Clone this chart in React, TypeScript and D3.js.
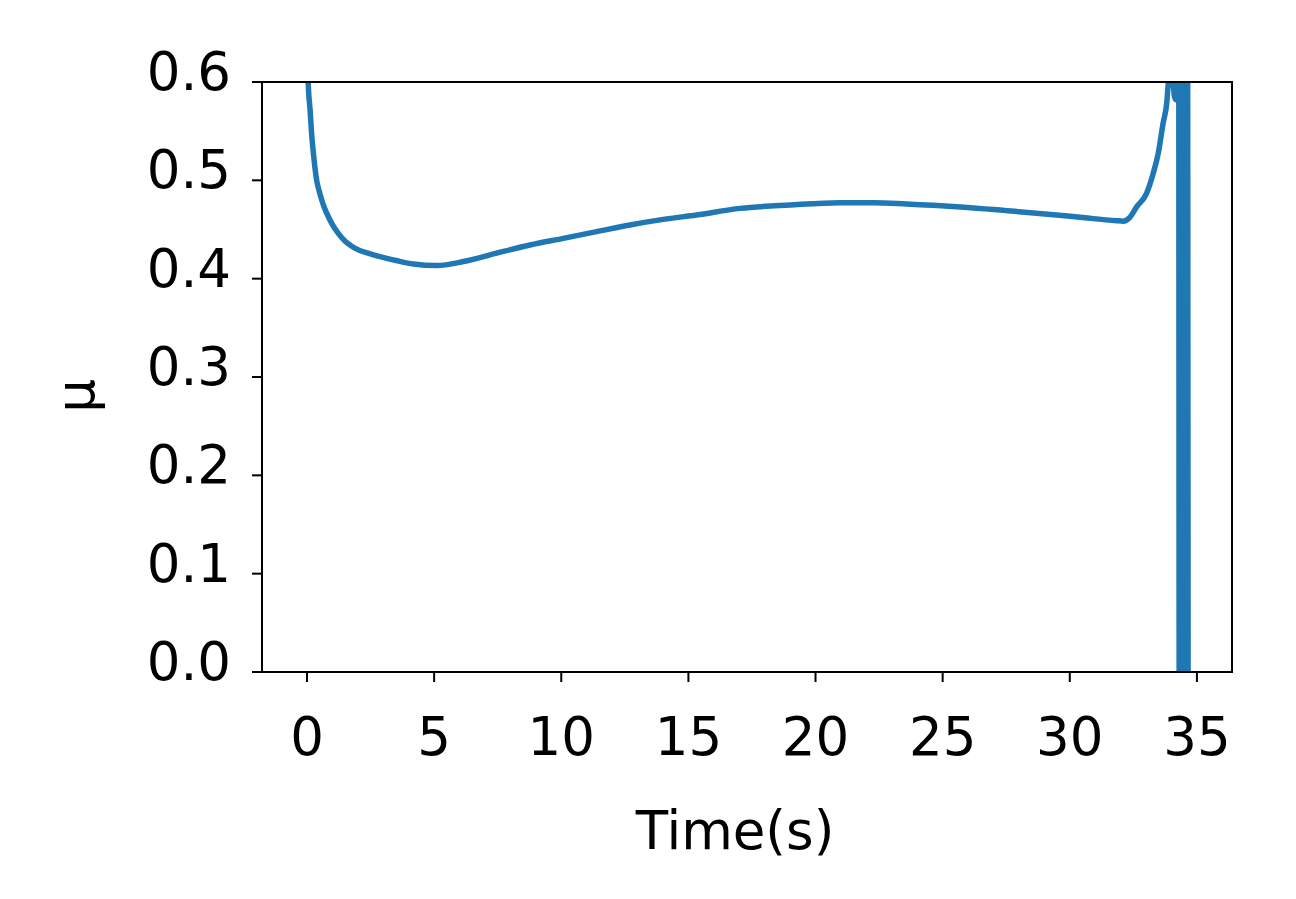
import React, { useEffect, useRef } from "react";
import * as d3 from "d3";

// Friction coefficient vs time
const times: number[] = [
  0, 0.05, 0.12, 0.18, 0.25, 0.38, 0.48, 0.58, 0.7, 0.84, 1.0, 1.23, 1.5, 1.76,
  2.05, 2.4, 2.87, 3.5, 4.18, 5.1, 6.15, 7.46, 8.77, 10.08, 11.39, 12.7, 14.01,
  15.32, 17.03, 19.0, 20.96, 22.27, 23.58, 25.55, 27.51, 29.48, 30.79, 31.84,
  32.1, 32.35, 32.63, 33.02, 33.28, 33.48, 33.67, 33.81, 33.88, 33.95, 34.05,
  34.12, 34.18, 34.24,
  // final unstable segment (oscillating values)
  34.28, 34.305, 34.33, 34.355, 34.38, 34.405, 34.43, 34.455, 34.48, 34.505,
  34.53, 34.555, 34.58, 34.605, 34.63, 34.655,
];
const mu: number[] = [
  0.66, 0.598, 0.572, 0.548, 0.528, 0.5, 0.489, 0.48, 0.471, 0.463, 0.455,
  0.446, 0.438, 0.433, 0.429, 0.426, 0.4224, 0.4185, 0.4149, 0.4133, 0.4174,
  0.426, 0.4342, 0.441, 0.4478, 0.4546, 0.4603, 0.4648, 0.4715, 0.475, 0.4773,
  0.4773, 0.476, 0.4732, 0.4692, 0.4648, 0.4614, 0.459, 0.4585, 0.462, 0.473,
  0.4868, 0.507, 0.5275, 0.558, 0.578, 0.6, 0.615, 0.605, 0.585, 0.582, 0.62,
  0.85, -0.05, 0.85, -0.05, 0.85, -0.05, 0.85, -0.05, 0.85, -0.05, 0.85, -0.05,
  0.85, -0.05, 0.85, -0.05,
];

const xTicks: number[] = [0, 5, 10, 15, 20, 25, 30, 35];
const yTicks: number[] = [0.0, 0.1, 0.2, 0.3, 0.4, 0.5, 0.6];
const xLabel = "Time(s)";
const yLabel = "μ";

const W = 1296;
const H = 899;
const FONT = "'DejaVu Sans', sans-serif";

export default function App() {
  const ref = useRef<SVGSVGElement | null>(null);

  useEffect(() => {
    const svg = d3.select(ref.current);
    svg.selectAll("*").remove();

    const left = 262, right = 1232, top = 82, bottom = 672;
    const x = d3.scaleLinear().domain([-1.77, 36.38]).range([left, right]);
    const y = d3.scaleLinear().domain([0, 0.6]).range([bottom, top]);

    svg.append("rect").attr("width", W).attr("height", H).attr("fill", "#fff");

    svg
      .append("clipPath")
      .attr("id", "plotclip")
      .append("rect")
      .attr("x", left)
      .attr("y", top)
      .attr("width", right - left)
      .attr("height", bottom - top);

    const data = times.map((t, i) => [t, mu[i]] as [number, number]);
    const line = d3
      .line<[number, number]>()
      .x((d) => x(d[0]))
      .y((d) => y(d[1]))
      .curve(d3.curveMonotoneX);

    svg
      .append("path")
      .attr("d", line(data) as string)
      .attr("fill", "none")
      .attr("stroke", "#1f77b4")
      .attr("stroke-width", 5.5)
      .attr("stroke-linejoin", "round")
      .attr("stroke-linecap", "butt")
      .attr("clip-path", "url(#plotclip)");

    // spines
    svg
      .append("rect")
      .attr("x", left)
      .attr("y", top)
      .attr("width", right - left)
      .attr("height", bottom - top)
      .attr("fill", "none")
      .attr("stroke", "#000")
      .attr("stroke-width", 2);

    // x ticks
    const gx = svg.append("g");
    xTicks.forEach((t) => {
      gx.append("line")
        .attr("x1", x(t))
        .attr("x2", x(t))
        .attr("y1", bottom)
        .attr("y2", bottom + 10)
        .attr("stroke", "#000")
        .attr("stroke-width", 2);
      gx.append("text")
        .attr("x", x(t))
        .attr("y", 755)
        .attr("text-anchor", "middle")
        .attr("font-family", FONT)
        .attr("font-size", 53)
        .attr("fill", "#000")
        .text(String(t));
    });

    // y ticks
    const gy = svg.append("g");
    yTicks.forEach((v) => {
      gy.append("line")
        .attr("x1", left - 10)
        .attr("x2", left)
        .attr("y1", y(v))
        .attr("y2", y(v))
        .attr("stroke", "#000")
        .attr("stroke-width", 2);
      gy.append("text")
        .attr("x", 231)
        .attr("y", y(v) + 8)
        .attr("text-anchor", "end")
        .attr("font-family", FONT)
        .attr("font-size", 53)
        .attr("fill", "#000")
        .text(v.toFixed(1));
    });

    svg
      .append("text")
      .attr("x", 735)
      .attr("y", 849)
      .attr("text-anchor", "middle")
      .attr("font-family", FONT)
      .attr("font-size", 53)
      .attr("fill", "#000")
      .text(xLabel);

    svg
      .append("text")
      .attr("transform", "translate(94,396) rotate(-90)")
      .attr("text-anchor", "middle")
      .attr("font-family", FONT)
      .attr("font-size", 53)
      .attr("fill", "#000")
      .text(yLabel);
  }, []);

  return (
    <svg
      ref={ref}
      width={W}
      height={H}
      style={{ position: "fixed", left: 0, top: 0, display: "block" }}
    />
  );
}
